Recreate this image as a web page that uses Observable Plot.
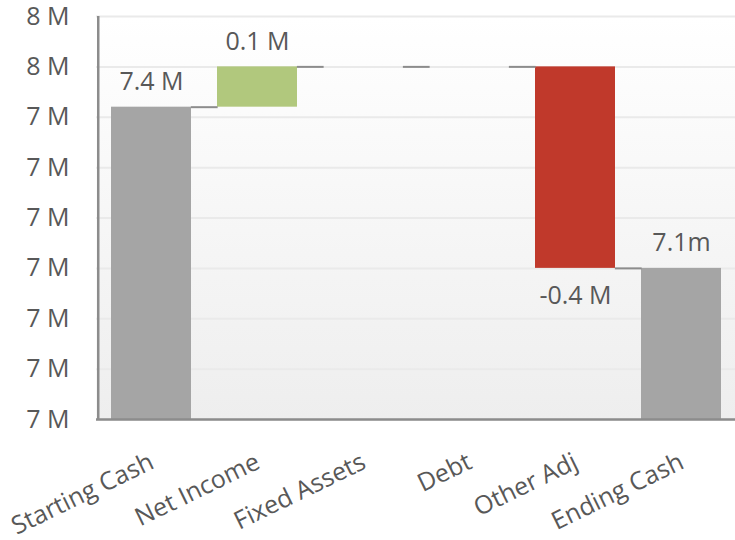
<!DOCTYPE html>
<html>
<head>
<meta charset="utf-8">
<script src="https://cdn.jsdelivr.net/npm/d3@7"></script>
<script src="https://cdn.jsdelivr.net/npm/@observablehq/plot@0.6"></script>
<style>
  html, body { margin: 0; padding: 0; background: #ffffff; }
  #chart { width: 735px; height: 540px; }
</style>
</head>
<body>
<div id="chart"></div>
<script>
// Cash-flow waterfall (values in millions)
const categories = ["Starting Cash", "Net Income", "Fixed Assets", "Debt", "Other Adj", "Ending Cash"];
const amounts = [7.42, 0.08, 0, 0, -0.4, 7.1];
const isTotal = [true, false, false, false, false, true];
const labelSuffix = [" M", " M", null, null, " M", "m"];

const yTicks = [6.8, 6.9, 7.0, 7.1, 7.2, 7.3, 7.4, 7.5, 7.6];
const yTickLabels = ["7 M", "7 M", "7 M", "7 M", "7 M", "7 M", "7 M", "8 M", "8 M"];

// Build the running-total table for the waterfall
let running = 0;
const rows = categories.map((name, i) => {
  const amount = amounts[i];
  let y1, y2;
  if (isTotal[i]) {
    y1 = 0; y2 = amount; running = amount;
  } else {
    y1 = running; y2 = running + amount; running = y2;
  }
  const kind = isTotal[i] ? "total" : amount >= 0 ? "increase" : "decrease";
  return {name, amount, y1, y2, end: running, kind, suffix: labelSuffix[i]};
});
const connectors = rows.slice(0, -1);
const labelled = rows.filter(d => d.suffix !== null);

// Layout
const width = 735, height = 540;
const marginLeft = 96, marginRight = 0, marginTop = 16, marginBottom = 121;
const paddingInner = 0.25, paddingOuter = 0.125;
const step = (width - marginLeft - marginRight) / (categories.length - paddingInner + 2 * paddingOuter);
const bandwidth = step * (1 - paddingInner);
const gapInset = (2 * bandwidth - step) / 2;

const colors = {total: "#a5a5a5", increase: "#b1c87d", decrease: "#c0392b"};
const textColor = "#585858";
const font = "'Open Sans', 'Noto Sans', sans-serif";

const plot = Plot.plot({
  width, height, marginLeft, marginRight, marginTop, marginBottom,
  style: {fontFamily: font, fontSize: "25px", color: textColor, background: "#ffffff", overflow: "visible"},
  x: {domain: categories, paddingInner, paddingOuter, axis: null},
  y: {
    domain: [yTicks[0], yTicks[yTicks.length - 1]],
    ticks: yTicks,
    tickFormat: d => yTickLabels[yTicks.indexOf(d)],
    tickSize: 0,
    tickPadding: 27,
    label: null
  },
  marks: [
    Plot.frame({fill: "url(#plot-bg)", stroke: "none"}),
    Plot.ruleY(yTicks, {stroke: "#eaeaea", strokeWidth: 2}),
    Plot.barY(rows, {
      x: "name", y1: "y1", y2: "y2",
      fill: d => colors[d.kind],
      clip: true
    }),
    // connectors spanning the gap between consecutive bars
    Plot.tickY(connectors, {
      x: "name", y: "end",
      dx: step / 2, insetLeft: gapInset, insetRight: gapInset,
      stroke: "#8c8c8c", strokeWidth: 2
    }),
    Plot.ruleY([yTicks[0]], {stroke: "#8c8c8c", strokeWidth: 2.5}),
    Plot.ruleX([categories[0]], {
      dx: -step / 2,
      y1: yTicks[0], y2: yTicks[yTicks.length - 1],
      stroke: "#8c8c8c", strokeWidth: 2.5
    }),
    // value labels: above rising/total bars, below falling ones
    Plot.text(labelled.filter(d => d.amount >= 0), {
      x: "name", y: d => Math.max(d.y1, d.y2),
      text: d => d.amount.toFixed(1) + d.suffix,
      lineAnchor: "bottom", dy: -17,
      fill: textColor, fontSize: 25
    }),
    Plot.text(labelled.filter(d => d.amount < 0), {
      x: "name", y: d => Math.min(d.y1, d.y2),
      text: d => d.amount.toFixed(1) + d.suffix,
      lineAnchor: "top", dy: 18,
      fill: textColor, fontSize: 25
    }),
    // rotated category labels
    Plot.text(categories, {
      x: d => d, frameAnchor: "bottom",
      text: d => d,
      rotate: -26, textAnchor: "end", lineAnchor: "bottom",
      dx: 4, dy: 48,
      fill: textColor, fontSize: 25
    })
  ]
});

// Vertical gradient behind the plotting area
const defs = d3.select(plot).insert("defs", ":first-child");
const grad = defs.append("linearGradient")
  .attr("id", "plot-bg").attr("x1", 0).attr("y1", 0).attr("x2", 0).attr("y2", 1);
grad.append("stop").attr("offset", "0%").attr("stop-color", "#ffffff");
grad.append("stop").attr("offset", "100%").attr("stop-color", "#eeeeee");

document.getElementById("chart").appendChild(plot);
</script>
</body>
</html>
